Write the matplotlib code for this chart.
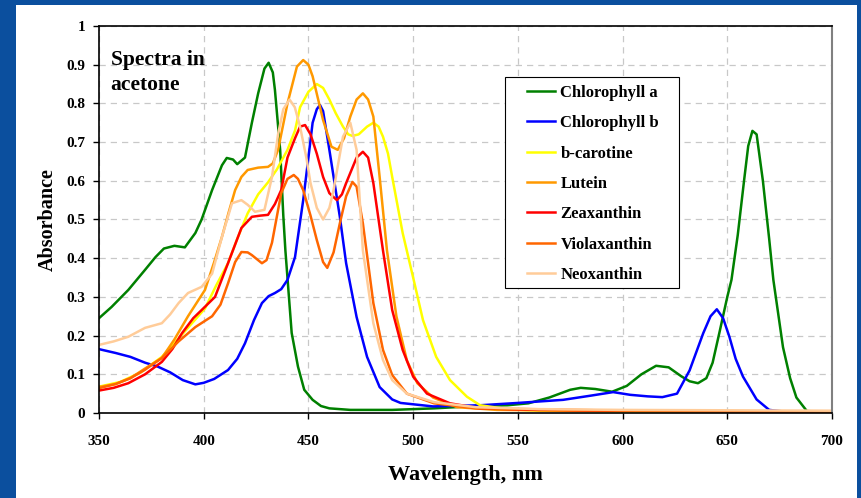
import matplotlib
matplotlib.use("Agg")
import matplotlib.pyplot as plt
from matplotlib.patches import Rectangle

# Chlorophyll a
chla_wl = [350, 356, 364, 372, 377, 381, 386, 391, 396, 399, 404, 408.7, 411, 414, 416, 419.7,
           423, 426, 429, 431, 433, 434, 436.5, 438, 439, 442, 445, 448, 452, 456, 460, 470,
           490, 510, 530, 545, 555, 565, 575, 580, 587, 595, 602, 609, 616, 622, 628, 632,
           636, 640, 643, 646.5, 650, 652, 655, 658, 660, 662, 664, 667, 670, 672, 676.6,
           680, 683, 688, 700]
chla_ab = [0.245, 0.274, 0.318, 0.37, 0.403, 0.425, 0.432, 0.428, 0.465, 0.50, 0.576, 0.64, 0.659,
           0.655, 0.643, 0.66, 0.75, 0.826, 0.89, 0.905, 0.88, 0.835, 0.68, 0.51, 0.42, 0.207,
           0.12, 0.06, 0.034, 0.018, 0.012, 0.008, 0.008, 0.012, 0.018, 0.02, 0.025, 0.04,
           0.06, 0.065, 0.062, 0.055, 0.07, 0.1, 0.122, 0.118, 0.095, 0.082, 0.077, 0.09,
           0.13, 0.214, 0.3, 0.344, 0.46, 0.6, 0.69, 0.729, 0.72, 0.6, 0.45, 0.344, 0.17,
           0.09, 0.04, 0.005, 0.002]

# Chlorophyll b
chlb_wl = [350, 358, 365, 372, 378, 384, 390, 396, 400, 405, 411.6, 416, 419.7, 424, 427.8, 431,
           434, 437, 440, 443.6, 447.5, 450, 452, 454, 455.5, 457, 460, 465, 468, 473, 478,
           484, 490, 494, 509.5, 532, 550, 571.6, 585, 595.5, 603.6, 612, 619, 626, 632,
           638.5, 642, 645, 648, 651, 654, 657.5, 664, 670, 680, 700]
chlb_ab = [0.165, 0.155, 0.145, 0.13, 0.12, 0.105, 0.085, 0.074, 0.078, 0.088, 0.111, 0.14, 0.18,
           0.24, 0.284, 0.302, 0.31, 0.32, 0.344, 0.403, 0.55, 0.66, 0.75, 0.785, 0.796, 0.78,
           0.68, 0.507, 0.387, 0.248, 0.145, 0.067, 0.035, 0.026, 0.017, 0.02, 0.026, 0.034,
           0.045, 0.054, 0.047, 0.043, 0.041, 0.05, 0.11, 0.206, 0.25, 0.268, 0.245, 0.197,
           0.14, 0.094, 0.035, 0.008, 0.002, 0.0]

# b-carotine
bcar_wl = [350, 360, 370, 380, 390, 400.6, 406, 411.6, 416, 421, 426, 430.7, 435, 440, 443.6, 446,
           450, 454, 457, 460, 463, 466.5, 469, 471, 474, 478, 481, 483.5, 485.6, 488, 490,
           495, 500, 504.7, 511, 517.6, 525.7, 532, 545, 560, 600, 700]
bcar_ab = [0.068, 0.08, 0.105, 0.145, 0.205, 0.27, 0.33, 0.387, 0.45, 0.516, 0.565, 0.596, 0.63,
           0.68, 0.73, 0.79, 0.83, 0.85, 0.84, 0.81, 0.775, 0.74, 0.72, 0.716, 0.72, 0.74,
           0.75, 0.74, 0.714, 0.67, 0.61, 0.465, 0.35, 0.24, 0.145, 0.085, 0.042, 0.02, 0.01,
           0.006, 0.004, 0.002]

# Lutein
lut_wl = [350, 358, 365, 372, 380, 386, 392.5, 400.6, 405, 408.7, 412, 415, 418, 421, 426, 430.7,
          433, 435.5, 440, 444.5, 447.5, 450, 452, 457, 461, 464, 467, 470, 473, 476, 478.5,
          481, 484, 487.5, 492, 497, 502, 509.5, 521, 540, 600, 700]
lut_ab = [0.067, 0.075, 0.09, 0.115, 0.142, 0.19, 0.25, 0.318, 0.39, 0.455, 0.52, 0.576, 0.61,
          0.628, 0.634, 0.636, 0.645, 0.68, 0.80, 0.895, 0.912, 0.9, 0.87, 0.757, 0.688, 0.68,
          0.71, 0.766, 0.81, 0.826, 0.81, 0.766, 0.61, 0.42, 0.25, 0.136, 0.077, 0.04, 0.015,
          0.008, 0.005, 0.003]

# Zeaxanthin
zea_wl = [350, 357, 364, 372, 380, 385, 389.6, 395, 399, 405.4, 411.6, 418, 423, 427, 430.7, 434,
          437, 440, 443.6, 446, 448.4, 451, 454, 457, 460, 463.6, 466, 468, 473, 476, 478.5,
          481, 485.6, 490, 495, 500, 506.6, 517.6, 532, 560, 600, 700]
zea_ab = [0.058, 0.065, 0.077, 0.1, 0.132, 0.165, 0.206, 0.245, 0.266, 0.30, 0.387, 0.478, 0.507,
          0.51, 0.512, 0.54, 0.576, 0.66, 0.71, 0.74, 0.744, 0.72, 0.67, 0.61, 0.568, 0.55,
          0.565, 0.594, 0.66, 0.675, 0.66, 0.594, 0.42, 0.266, 0.163, 0.094, 0.05, 0.025,
          0.012, 0.008, 0.006, 0.003]

# Violaxanthin
vio_wl = [350, 358, 365, 372, 380, 388, 396, 404, 408, 411.6, 415, 418, 421, 423, 427.8, 430,
          432.6, 437, 440, 443, 445, 447.5, 451, 454, 457, 459, 462, 465, 468, 471, 473, 476,
          481, 485.6, 490, 497, 510, 530, 600, 700]
vio_ab = [0.064, 0.075, 0.09, 0.112, 0.142, 0.185, 0.222, 0.25, 0.28, 0.335, 0.39, 0.416, 0.415,
          0.408, 0.387, 0.395, 0.44, 0.568, 0.605, 0.615, 0.605, 0.576, 0.51, 0.447, 0.39,
          0.375, 0.415, 0.49, 0.56, 0.597, 0.585, 0.49, 0.284, 0.163, 0.098, 0.05, 0.025,
          0.012, 0.006, 0.003]

# Neoxanthin
neo_wl = [350, 357, 364, 372, 380, 384, 388, 392.5, 399, 404, 408.7, 413.5, 418, 421, 424.5, 429,
          432.6, 435.5, 438, 441, 443.5, 446, 449, 451, 454, 457, 460, 462, 466.5, 470, 473,
          476, 481, 485.6, 490, 497, 510, 530, 560, 600, 700]
neo_ab = [0.176, 0.185, 0.197, 0.22, 0.232, 0.255, 0.284, 0.31, 0.326, 0.36, 0.455, 0.542, 0.55,
          0.538, 0.52, 0.525, 0.61, 0.72, 0.785, 0.81, 0.79, 0.74, 0.66, 0.594, 0.53, 0.5,
          0.53, 0.576, 0.714, 0.75, 0.68, 0.42, 0.232, 0.137, 0.085, 0.05, 0.028, 0.015,
          0.01, 0.008, 0.006]

series = [
    ("Chlorophyll a", chla_wl, chla_ab, "#008000"),
    ("Chlorophyll b", chlb_wl, chlb_ab, "#0000FF"),
    ("b-carotine", bcar_wl, bcar_ab, "#FFFF00"),
    ("Lutein", lut_wl, lut_ab, "#FF9900"),
    ("Zeaxanthin", zea_wl, zea_ab, "#FF0000"),
    ("Violaxanthin", vio_wl, vio_ab, "#FF6600"),
    ("Neoxanthin", neo_wl, neo_ab, "#FFCC99"),
]

plt.rcParams['font.family'] = ['Liberation Serif', 'DejaVu Serif']
plt.rcParams['font.weight'] = 'bold'

W, H = 861, 498
fig = plt.figure(figsize=(8.61, 4.98), dpi=100, facecolor="#0b4f9e")
# white slide panel
fig.patches.append(Rectangle((16 / W, 0), (857 - 16) / W, (H - 5) / H,
                             transform=fig.transFigure, facecolor="white",
                             edgecolor="none", zorder=-1))

ax = fig.add_axes([99 / W, (H - 413) / H, (832 - 99) / W, (413 - 26) / H])

for name, wl, ab, col in series:
    ax.plot(wl, ab, color=col, lw=1.8, label=name)

ax.set_xlim(350, 700)
ax.set_ylim(0, 1)
ax.set_xticks(range(350, 701, 50))
ax.set_yticks([i / 10 for i in range(11)])
ax.set_yticklabels(["0", "0.1", "0.2", "0.3", "0.4", "0.5", "0.6", "0.7", "0.8", "0.9", "1"])
ax.grid(True, color="#c8c8c8", linestyle=(0, (5, 4)), linewidth=0.9)
ax.set_axisbelow(True)
ax.tick_params(axis="x", direction="out", length=4, width=1, labelsize=11, pad=12)
ax.tick_params(axis="y", direction="out", length=4, width=1, labelsize=11, pad=6)
for side in ["left", "bottom", "top"]:
    ax.spines[side].set_color("black")
    ax.spines[side].set_linewidth(1.2)
ax.spines["right"].set_color("#808080")
ax.spines["right"].set_linewidth(1.5)

ax.set_xlabel("Wavelength, nm", fontsize=16, fontweight="bold", labelpad=12)
ax.set_ylabel("Absorbance", fontsize=14.5, fontweight="bold", labelpad=6)

ax.text(0.016, 0.937, "Spectra in\nacetone", transform=ax.transAxes, fontsize=15.5,
        fontweight="bold", va="top", ha="left", linespacing=1.32)

# legend box drawn by hand to match the slide's padding
def px_to_ax(x, y):
    return (x - 99) / (832 - 99), (413 - y) / (413 - 26)

bx0, by0 = px_to_ax(505, 288)
bx1, by1 = px_to_ax(679, 77)
ax.add_patch(Rectangle((bx0, by0), bx1 - bx0, by1 - by0, transform=ax.transAxes,
                       facecolor="white", edgecolor="black", linewidth=0.8, zorder=4))
lx, ly = px_to_ax(527, 85)
leg = ax.legend(loc="upper left", bbox_to_anchor=(lx, ly), fontsize=12,
                frameon=False, handlelength=1.7, handletextpad=0.3, labelspacing=0.86,
                borderpad=0, borderaxespad=0)
leg.set_zorder(5)

fig.savefig("out.png", dpi=100, facecolor=fig.get_facecolor())
